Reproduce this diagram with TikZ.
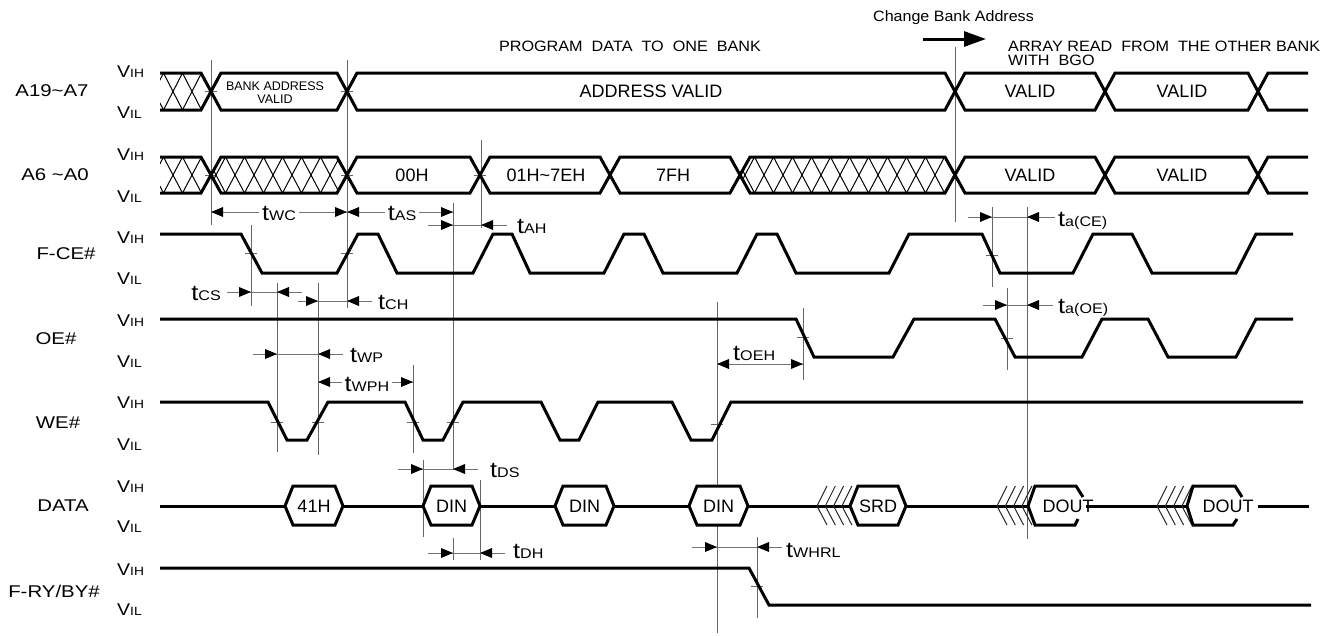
\documentclass[tikz,border=0pt]{standalone}
\usepackage{graphicx}
\usepackage{fontspec}
\setmainfont{Liberation Sans}
\usetikzlibrary{arrows.meta}
\newcommand\sname[1]{\scalebox{1.2}[1]{\fontsize{17}{17}\selectfont #1}}
\newcommand\vlev[1]{\scalebox{1.15}[1]{\fontsize{17}{17}\selectfont V\fontsize{12}{12}\selectfont #1}}
\newcommand\tmg[1]{\scalebox{1.15}[1]{\fontsize{22}{22}\selectfont t\fontsize{14}{14}\selectfont #1}}
\newcommand\tipR[2]{\fill[black] (#1,#2) -- ++(-12,-5) -- ++(0,10) -- cycle;}
\newcommand\tipL[2]{\fill[black] (#1,#2) -- ++(12,-5) -- ++(0,10) -- cycle;}
\newcommand\tck[2]{\draw[refl] ({#1-6},#2) -- ({#1+6},#2);}
\newcommand\busseg[4]{\draw[sig] (#1,{(#3+#4)/2}) -- ({#1+10},#3) -- ({#2-10},#3) -- (#2,{(#3+#4)/2}) -- ({#2-10},#4) -- ({#1+10},#4) -- cycle;}
\newcommand\hatchseg[4]{%
  \begin{scope}
    \clip (#1,{(#3+#4)/2}) -- ({#1+10},#3) -- ({#2-10},#3) -- (#2,{(#3+#4)/2}) -- ({#2-10},#4) -- ({#1+10},#4) -- cycle;
    \foreach \k in {-1,...,12}{%
      \draw[hatchl] ({#1-4.5+\k*19},#4) -- ({#1+14.5+\k*19},#3);
      \draw[hatchl] ({#1-4.5+\k*19},#3) -- ({#1+14.5+\k*19},#4);}
  \end{scope}
  \busseg{#1}{#2}{#3}{#4}}
\newcommand\hatchstart[3]{%
  \begin{scope}
    \clip (160,#1) -- (201,#1) -- (211,#3) -- (201,#2) -- (160,#2) -- cycle;
    \foreach \k in {-1,...,3}{%
      \draw[hatchl] ({163.5+\k*19},#2) -- ({182.5+\k*19},#1);
      \draw[hatchl] ({163.5+\k*19},#1) -- ({182.5+\k*19},#2);}
  \end{scope}
  \draw[sig] (160,#1) -- (201,#1) -- (211,#3) -- (201,#2) -- (160,#2);}
\newcommand\busend[3]{\draw[sig] (1308,#1) -- (1268,#1) -- (1258,#3) -- (1268,#2) -- (1308,#2);}
\newcommand\dhex[4]{%
  \draw[sig,fill=white] (#2,506) -- ({#2+8},486) -- ({#3-8},486) -- (#3,506) -- ({#3-8},525) -- ({#2+8},525) -- cycle;
  \node[dtxt] (#1) at ({(#2+#3)/2},506) {#4};}
\newcommand\chevs[1]{\foreach \k in {0,...,3}{\draw[chevl] ({#1+\k*8.3+10},486) -- ({#1+\k*8.3},506) -- ({#1+\k*8.3+10},525);}}
\begin{document}
\begin{tikzpicture}[x=1pt,y=-1pt,
  sig/.style={line width=3pt,line join=miter},
  refl/.style={line width=1pt,draw=black!60},
  dimln/.style={line width=1pt,draw=black!55},
  hatchl/.style={line width=1pt},
  chevl/.style={line width=1pt,draw=black!85},
  lab/.style={inner sep=0pt},
  btxt/.style={inner sep=0pt,font=\fontsize{18}{18}\selectfont},
  dtxt/.style={inner sep=0pt,font=\fontsize{18}{18}\selectfont},
  tlab/.style={inner sep=0pt,anchor=base west}]
\useasboundingbox (0,0) rectangle (1333,635);

% ---------- reference lines ----------
\draw[refl] (211,60) -- (211,225);
\draw[refl] (347,60) -- (347,308);
\draw[refl] (453,203) -- (453,470);
\draw[refl] (481,140) -- (481,228);
\draw[refl] (251,225) -- (251,306);
\draw[refl] (277,283) -- (277,452);
\draw[refl] (318,283) -- (318,455);
\draw[refl] (413,365) -- (413,453);
\draw[refl] (423,460) -- (423,537);
\draw[refl] (453,538) -- (453,560);
\draw[refl] (480,480) -- (480,560);
\draw[refl] (717,302) -- (717,633);
\draw[refl] (803,308) -- (803,380);
\draw[refl] (757,537) -- (757,618);
\draw[refl] (955,47) -- (955,222);
\draw[refl] (992,207) -- (992,287);
\draw[refl] (1007,288) -- (1007,370);
\draw[refl] (1027,207) -- (1027,539);
\tck{211}{91}\tck{347}{91}\tck{211}{175}\tck{347}{175}\tck{480}{175}
\tck{251}{253}\tck{347}{253}\tck{803}{337}\tck{277}{422}\tck{318}{422}
\tck{413}{422}\tck{453}{422}\tck{717}{424}\tck{757}{586}\tck{992}{255}\tck{1007}{338}

% ---------- dimension arrows ----------
\draw[dimln] (211,212) -- (453,212);
\tipL{211}{212}\tipR{347}{212}\tipL{347}{212}\tipR{453}{212}
\node[inner xsep=3pt,inner ysep=0pt,fill=white,anchor=base] (twc) at (279,220) {\tmg{WC}};
\node[inner xsep=3pt,inner ysep=0pt,fill=white,anchor=base] (tas) at (402,220) {\tmg{AS}};
\draw[dimln] (428,225) -- (507,225); \tipR{453}{225}\tipL{481}{225}
\node[tlab] (tah) at (517,233) {\tmg{AH}};
\draw[dimln] (227,292) -- (302,292); \tipR{251}{292}\tipL{277}{292}
\node[inner sep=0pt,anchor=base east] (tcs) at (221,300) {\tmg{CS}};
\draw[dimln] (298,301) -- (372,301); \tipR{318}{301}\tipL{347}{301}
\node[tlab] (tch) at (378,309) {\tmg{CH}};
\draw[dimln] (253,354) -- (343,354); \tipR{277}{354}\tipL{318}{354}
\node[tlab] (twp) at (350,362) {\tmg{WP}};
\draw[dimln] (318,382) -- (413,382); \tipL{318}{382}\tipR{413}{382}
\node[inner xsep=3pt,inner ysep=0pt,fill=white,anchor=base] (twph) at (367,391) {\tmg{WPH}};
\draw[dimln] (717,364) -- (803,364); \tipL{717}{364}\tipR{803}{364}
\node[tlab] (toeh) at (733,360) {\tmg{OEH}};
\draw[dimln] (968,217) -- (1055,217); \tipR{992}{217}\tipL{1027}{217}
\node[tlab] (tace) at (1058,226) {\tmg{a(CE)}};
\draw[dimln] (983,305) -- (1053,305); \tipR{1007}{305}\tipL{1027}{305}
\node[tlab] (taoe) at (1058,313) {\tmg{a(OE)}};
\draw[dimln] (398,469) -- (478,469); \tipR{423}{469}\tipL{453}{469}
\node[tlab] (tds) at (490,477) {\tmg{DS}};
\draw[dimln] (428,553) -- (505,553); \tipR{453}{553}\tipL{480}{553}
\node[tlab] (tdh) at (513,558) {\tmg{DH}};
\draw[dimln] (692,547) -- (782,547); \tipR{717}{547}\tipL{757}{547}
\node[tlab] (twhrl) at (786,557) {\tmg{WHRL}};

% ---------- signal names ----------
\node[lab] (nA19) at (52,91) {\sname{A19\textasciitilde A7}};
\node[lab] (nA6) at (55,175) {\sname{A6 \textasciitilde A0}};
\node[lab] (nCE) at (66,254) {\sname{F-CE\#}};
\node[lab] (nOE) at (56,339) {\sname{OE\#}};
\node[lab] (nWE) at (58,423) {\sname{WE\#}};
\node[lab] (nDATA) at (63,506) {\sname{DATA}};
\node[lab] (nRY) at (54,591) {\sname{F-RY/BY\#}};
% levels
\foreach \nm/\yh/\yl in {a/72/113,b/155/197,c/238/279,d/321/362,e/403/445,f/487/527,g/570/610}{
  \node[lab,anchor=west] (vih\nm) at (117,\yh) {\vlev{IH}};
  \node[lab,anchor=west] (vil\nm) at (117,\yl) {\vlev{IL}};}

% ---------- top texts ----------
\node[lab,anchor=base] (prog) at (630,51) {\scalebox{1.08}[1]{\fontsize{15}{15}\selectfont PROGRAM\ \ DATA\ \ TO\ \ ONE\ \ BANK}};
\node[lab,anchor=base west] (chg) at (873,21) {\scalebox{1.07}[1]{\fontsize{15}{15}\selectfont Change Bank Address}};
\node[lab,anchor=base west] (arr1) at (1008,51) {\scalebox{1.08}[1]{\fontsize{15}{15}\selectfont ARRAY READ\ \ FROM\ \ THE OTHER BANK}};
\node[lab,anchor=base west] (arr2) at (1008,65) {\scalebox{1.08}[1]{\fontsize{15}{15}\selectfont WITH\ \ BGO}};
\coordinate (cbA) at (923,39);
\coordinate (cbB) at (986,39);
\draw[line width=3pt,-{Triangle[length=22pt,width=15pt]}] (cbA) -- (cbB);

% ---------- buses ----------
\hatchstart{73}{110}{91.5}
\busseg{211}{347}{73}{110}
\busseg{347}{955}{73}{110}
\busseg{955}{1105}{73}{110}
\busseg{1105}{1258}{73}{110}
\busend{73}{110}{91.5}
\node[lab,align=center,font=\fontsize{12.5}{13}\selectfont] (bav) at (275,92.5) {BANK ADDRESS\\VALID};
\node[btxt] (av) at (651,91) {ADDRESS VALID};
\node[btxt] (v1) at (1030,91) {VALID};
\node[btxt] (v2) at (1182,91) {VALID};

\hatchstart{157}{193}{175}
\hatchseg{211}{347}{157}{193}
\busseg{347}{480}{157}{193}
\busseg{480}{610}{157}{193}
\busseg{610}{740}{157}{193}
\hatchseg{740}{955}{157}{193}
\busseg{955}{1105}{157}{193}
\busseg{1105}{1258}{157}{193}
\busend{157}{193}{175}
\node[btxt] (h00) at (412,175) {00H};
\node[btxt] (h01) at (546,175) {01H\textasciitilde 7EH};
\node[btxt] (h7f) at (673,175) {7FH};
\node[btxt] (v3) at (1030,175) {VALID};
\node[btxt] (v4) at (1182,175) {VALID};

% ---------- F-CE# ----------
\draw[sig] (160,234) -- (241,234) -- (262,273) -- (337,273) -- (358,234) -- (378,234) -- (397,273) -- (473,273) -- (493,234) -- (512,234) -- (530,273) -- (604,273) -- (624,234) -- (644,234) -- (663,273) -- (737,273) -- (757,234) -- (777,234) -- (796,273) -- (889,273) -- (909,234) -- (982,234) -- (1000,273) -- (1073,273) -- (1093,234) -- (1132,234) -- (1152,273) -- (1236,273) -- (1256,234) -- (1293,234);
% ---------- OE# ----------
\draw[sig] (160,319) -- (796,319) -- (814,357) -- (893,357) -- (914,319) -- (995,319) -- (1015,357) -- (1082,357) -- (1102,319) -- (1148,319) -- (1168,357) -- (1236,357) -- (1256,319) -- (1293,319);
% ---------- WE# ----------
\draw[sig] (160,402) -- (268,402) -- (287,440) -- (307,440) -- (328,402) -- (405,402) -- (423,440) -- (443,440) -- (463,402) -- (541,402) -- (560,440) -- (579,440) -- (598,402) -- (672,402) -- (691,440) -- (712,440) -- (731,402) -- (1303,402);
% ---------- F-RY/BY# ----------
\draw[sig] (160,568) -- (749,568) -- (769,605) -- (1311,605);

% ---------- DATA ----------
\draw[sig] (160,506) -- (285,506);
\draw[sig] (343,506) -- (423,506);
\draw[sig] (480,506) -- (555,506);
\draw[sig] (614,506) -- (689,506);
\draw[sig] (748,506) -- (850,506);
\draw[sig] (906,506) -- (1028,506);
\draw[sig] (1086,506) -- (1187,506);
\draw[sig] (1258,506) -- (1309,506);
\chevs{817}
\chevs{997}
\chevs{1157}
\dhex{d41}{285}{343}{41H}
\dhex{din1}{423}{480}{DIN}
\dhex{din2}{555}{614}{DIN}
\dhex{din3}{689}{748}{DIN}
\dhex{srd}{850}{906}{SRD}
\draw[sig] (1083,497) -- (1076,486) -- (1035,486) -- (1028,506) -- (1035,525) -- (1075,525) -- (1078,519);
\draw[sig] (1242,497) -- (1235,486) -- (1193,486) -- (1187,506) -- (1193,525) -- (1233,525) -- (1237,519);
\node[dtxt] (dout1) at (1068,506) {DOUT};
\node[dtxt] (dout2) at (1228,506) {DOUT};
\end{tikzpicture}
\end{document}
